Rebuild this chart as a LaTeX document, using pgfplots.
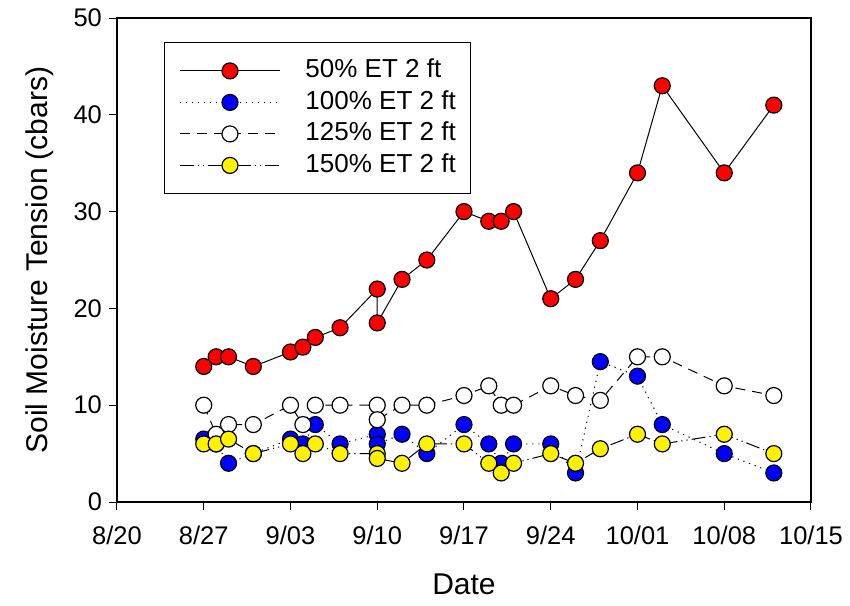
\documentclass[border=0pt]{standalone}
\usepackage{pgfplots}
\pgfplotsset{compat=1.18}
\usepackage{pgfplotstable}
\usepackage{fontspec}
\setmainfont{Liberation Sans}

\pgfplotstableread{
d v
7 14
8 15
9 15
11 14
14 15.5
15 16
16 17
18 18
21 22
21 18.5
23 23
25 25
28 30
30 29
31 29
32 30
35 21
37 23
39 27
42 34
44 43
49 34
53 41
}\red

\pgfplotstableread{
d v
7 6.5
8 6
9 4
11 5
14 6.5
15 6
16 8
18 6
21 7
21 6
23 7
25 5
28 8
30 6
31 4
32 6
35 6
37 3
39 14.5
42 13
44 8
49 5
53 3
}\blue

\pgfplotstableread{
d v
7 10
8 7
9 8
11 8
14 10
15 8
16 10
18 10
21 10
21 8.5
23 10
25 10
28 11
30 12
31 10
32 10
35 12
37 11
39 10.5
42 15
44 15
49 12
53 11
}\white

\pgfplotstableread{
d v
7 6
8 6
9 6.5
11 5
14 6
15 5
16 6
18 5
21 5
21 4.5
23 4
25 6
28 6
30 4
31 3
32 4
35 5
37 4
39 5.5
42 7
44 6
49 7
53 5
}\yellow

\begin{document}
\begin{tikzpicture}
\useasboundingbox (-58.5pt,-51.5pt) rectangle (366.5pt,251pt);
\begin{axis}[
  name=ax,
  scale only axis,
  width=347pt, height=242pt,
  xmin=0, xmax=56, ymin=0, ymax=50,
  xtick={0,7,...,56},
  xticklabels={8/20,8/27,9/03,9/10,9/17,9/24,10/01,10/08,10/15},
  ytick={0,10,...,50},
  xtick pos=left, ytick pos=left,
  tick align=outside,
  major tick length=4pt,
  tick style={black, line width=0.5pt},
  axis line style={black, line width=0.6pt},
  /pgf/number format/assume math mode=true,
  ticklabel style={font=\fontsize{12.75}{15}\selectfont},
  xticklabel style={yshift=-4.5pt},
  xlabel={Date},
  ylabel={Soil Moisture Tension (cbars)},
  label style={font=\fontsize{15}{18}\selectfont},
  xlabel style={at={(axis description cs:0.5,0)}, anchor=base, yshift=-46pt},
  ylabel style={at={(axis description cs:0,0.5)}, anchor=base, yshift=34.5pt},
  legend cell align=left,
  legend style={
    at={(axis description cs:0.0677,0.9504)}, anchor=north west,
    draw=black, line width=0.5pt,
    font=\fontsize{13}{15}\selectfont,
    inner xsep=7.5pt, inner ysep=8.2pt,
    nodes={inner sep=0pt, text height=9.5pt, text depth=2.5pt},
    row sep=3.75pt, column sep=12.5pt,
  },
  legend image code/.code={%
    \draw[mark repeat=2,mark phase=2,#1] plot coordinates {(0pt,0pt) (25pt,0pt) (50pt,0pt)};
  },
]
\addplot[black, line width=0.5pt, mark=*, mark size=4pt,
  mark options={solid, fill=red, draw=black, line width=0.6pt}] table[x=d,y=v] {\red};
\addlegendentry{50\% ET 2 ft}
\addplot[black, line width=0.5pt, dash pattern=on 0.6pt off 2.4pt, mark=*, mark size=4pt,
  mark options={solid, fill=blue, draw=black, line width=0.6pt}] table[x=d,y=v] {\blue};
\addlegendentry{100\% ET 2 ft}
\addplot[black, line width=0.5pt, dash pattern=on 5pt off 3.5pt, mark=*, mark size=4pt,
  mark options={solid, fill=white, draw=black, line width=0.6pt}] table[x=d,y=v] {\white};
\addlegendentry{125\% ET 2 ft}
\addplot[black, line width=0.5pt, dash pattern=on 7pt off 2pt on 0.6pt off 2pt on 0.6pt off 2pt, mark=*, mark size=4pt,
  mark options={solid, fill=yellow, draw=black, line width=0.6pt}] table[x=d,y=v] {\yellow};
\addlegendentry{150\% ET 2 ft}
\end{axis}
\end{tikzpicture}
\end{document}
